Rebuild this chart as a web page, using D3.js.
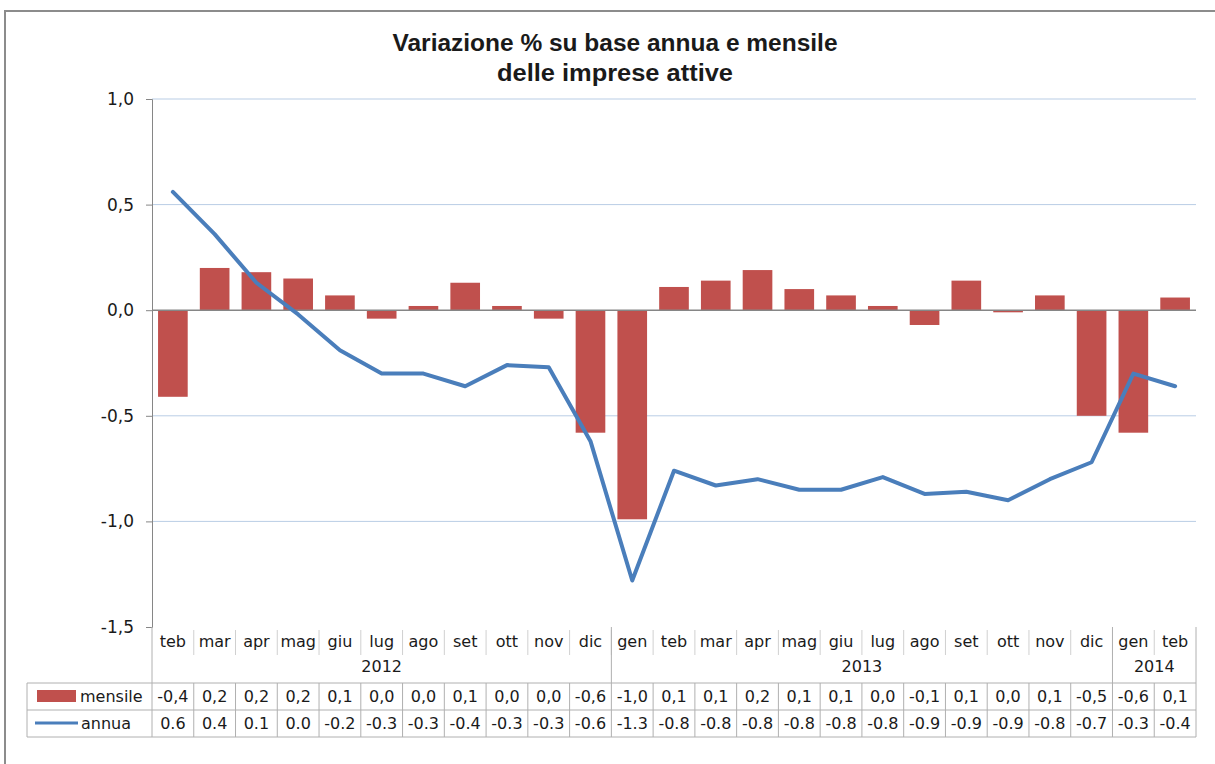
<!DOCTYPE html>
<meta charset="utf-8">
<html>
<head>
<script src="https://d3js.org/d3.v7.min.js"></script>
<style>
  body { margin: 0; background: #fff; }
  text { font-family: "DejaVu Sans", sans-serif; fill: #1a1a1a; }
</style>
</head>
<body>
<div id="chart"></div>
<script>
// data
const months = ["teb","mar","apr","mag","giu","lug","ago","set","ott","nov","dic",
                "gen","teb","mar","apr","mag","giu","lug","ago","set","ott","nov","dic",
                "gen","teb"];
const years = [{label: "2012", from: 0, to: 10}, {label: "2013", from: 11, to: 22}, {label: "2014", from: 23, to: 24}];
const mensile = [-0.41, 0.20, 0.18, 0.15, 0.07, -0.04, 0.02, 0.13, 0.02, -0.04, -0.58,
                 -0.99, 0.11, 0.14, 0.19, 0.10, 0.07, 0.02, -0.07, 0.14, -0.01, 0.07, -0.50,
                 -0.58, 0.06];
const annua = [0.56, 0.36, 0.13, -0.02, -0.19, -0.30, -0.30, -0.36, -0.26, -0.27, -0.62,
               -1.28, -0.76, -0.83, -0.80, -0.85, -0.85, -0.79, -0.87, -0.86, -0.90, -0.80, -0.72,
               -0.30, -0.36];
const mensileLabels = ["-0,4","0,2","0,2","0,2","0,1","0,0","0,0","0,1","0,0","0,0","-0,6",
                       "-1,0","0,1","0,1","0,2","0,1","0,1","0,0","-0,1","0,1","0,0","0,1","-0,5",
                       "-0,6","0,1"];
const annuaLabels = ["0.6","0.4","0.1","0.0","-0.2","-0.3","-0.3","-0.4","-0.3","-0.3","-0.6",
                     "-1.3","-0.8","-0.8","-0.8","-0.8","-0.8","-0.8","-0.9","-0.9","-0.9","-0.8","-0.7",
                     "-0.3","-0.4"];
const yTicks = [1.0, 0.5, 0.0, -0.5, -1.0, -1.5];

const W = 1215, H = 764;
const fs = "16px";
const svg = d3.select("#chart").append("svg")
    .attr("width", W).attr("height", H);

// outer frame
svg.append("rect")
    .attr("x", 5).attr("y", 11).attr("width", 1230).attr("height", 800)
    .attr("fill", "none").attr("stroke", "#8c8c8c").attr("stroke-width", 2);

// title
svg.append("text")
    .attr("x", 615).attr("y", 51).attr("text-anchor", "middle")
    .style("font-family", "'Liberation Sans', sans-serif")
    .style("font-weight", "bold").style("font-size", "23px")
    .attr("textLength", 445).attr("lengthAdjust", "spacingAndGlyphs")
    .text("Variazione % su base annua e mensile");
svg.append("text")
    .attr("x", 615).attr("y", 81).attr("text-anchor", "middle")
    .style("font-family", "'Liberation Sans', sans-serif")
    .style("font-weight", "bold").style("font-size", "23px")
    .attr("textLength", 236).attr("lengthAdjust", "spacingAndGlyphs")
    .text("delle imprese attive");

const x = d3.scaleBand()
    .domain(d3.range(months.length))
    .range([152, 1196])
    .paddingInner(0.29).paddingOuter(0.145);
const step = x.step();
const left = 152, right = 1196;
const cx = i => left + step * (i + 0.5);

const y = d3.scaleLinear().domain([-1.5, 1]).range([627, 99]);

// gridlines
svg.append("g").selectAll("line")
  .data(yTicks.filter(d => d !== 0 && d !== -1.5))
  .join("line")
    .attr("x1", left).attr("x2", right)
    .attr("y1", d => y(d)).attr("y2", d => y(d))
    .attr("stroke", "#b9cde5").attr("stroke-width", 1);

// y axis
const yAxis = svg.append("g")
    .attr("transform", `translate(${left},0)`)
    .call(d3.axisLeft(y).tickValues(yTicks).tickSize(6).tickPadding(12)
        .tickFormat(d => d.toFixed(1).replace(".", ",")));
yAxis.select(".domain").attr("stroke", "#868686");
yAxis.selectAll(".tick line").attr("stroke", "#868686");
yAxis.selectAll("text").style("font-size", "17px").style("font-family", "'DejaVu Sans', sans-serif").attr("fill", "#1a1a1a");

// bars
svg.append("g").selectAll("rect")
  .data(mensile)
  .join("rect")
    .attr("x", (d, i) => x(i))
    .attr("width", x.bandwidth())
    .attr("y", d => y(Math.max(0, d)))
    .attr("height", d => Math.abs(y(d) - y(0)))
    .attr("fill", "#c0504d");

// zero line
svg.append("line")
    .attr("x1", left).attr("x2", right)
    .attr("y1", y(0)).attr("y2", y(0))
    .attr("stroke", "#868686").attr("stroke-width", 1.5);

// line
svg.append("path")
    .datum(annua)
    .attr("fill", "none")
    .attr("stroke", "#4a7ebb")
    .attr("stroke-width", 4)
    .attr("stroke-linejoin", "round")
    .attr("stroke-linecap", "round")
    .attr("d", d3.line().x((d, i) => cx(i)).y(d => y(d)));

// data table
const grid = "#b0b0b0";
const tb = svg.append("g");
const rowM = 627, rowY = 655, rowA = 683, rowB = 710, rowEnd = 737;

// month separators
tb.selectAll("line.sep")
  .data(d3.range(1, months.length))
  .join("line")
    .attr("x1", i => left + step * i).attr("x2", i => left + step * i)
    .attr("y1", rowM + 3).attr("y2", rowY)
    .attr("stroke", "#d0d0d0");
tb.selectAll("text.month")
  .data(months)
  .join("text")
    .attr("x", (d, i) => cx(i)).attr("y", 647)
    .attr("text-anchor", "middle").style("font-size", fs)
    .text(d => d);

// year groups
tb.selectAll("line.year")
  .data([0, 11, 23, 25])
  .join("line")
    .attr("x1", i => left + step * i).attr("x2", i => left + step * i)
    .attr("y1", rowM).attr("y2", rowA)
    .attr("stroke", grid);
tb.selectAll("text.year")
  .data(years)
  .join("text")
    .attr("x", d => left + step * (d.from + d.to + 1) / 2).attr("y", 672)
    .attr("text-anchor", "middle").style("font-size", fs)
    .text(d => d.label);

// series rows
[rowA, rowB, rowEnd].forEach(yy => {
  tb.append("line").attr("x1", 27).attr("x2", right).attr("y1", yy).attr("y2", yy).attr("stroke", grid);
});
tb.selectAll("line.col")
  .data(d3.range(0, months.length + 1))
  .join("line")
    .attr("x1", i => left + step * i).attr("x2", i => left + step * i)
    .attr("y1", rowA).attr("y2", rowEnd)
    .attr("stroke", grid);
tb.append("line").attr("x1", 27).attr("x2", 27).attr("y1", rowA).attr("y2", rowEnd).attr("stroke", grid);

tb.selectAll("text.mens")
  .data(mensileLabels)
  .join("text")
    .attr("x", (d, i) => cx(i)).attr("y", 702)
    .attr("text-anchor", "middle").style("font-size", fs)
    .text(d => d);
tb.selectAll("text.ann")
  .data(annuaLabels)
  .join("text")
    .attr("x", (d, i) => cx(i)).attr("y", 729)
    .attr("text-anchor", "middle").style("font-size", fs)
    .text(d => d);

// legend keys
tb.append("rect").attr("x", 37).attr("y", 690).attr("width", 39).attr("height", 12).attr("fill", "#c0504d");
tb.append("text").attr("x", 80).attr("y", 702).style("font-size", fs).text("mensile");
tb.append("line").attr("x1", 35).attr("x2", 78).attr("y1", 723).attr("y2", 723)
    .attr("stroke", "#4a7ebb").attr("stroke-width", 3);
tb.append("text").attr("x", 81).attr("y", 729).style("font-size", fs).text("annua");
</script>
</body>
</html>
